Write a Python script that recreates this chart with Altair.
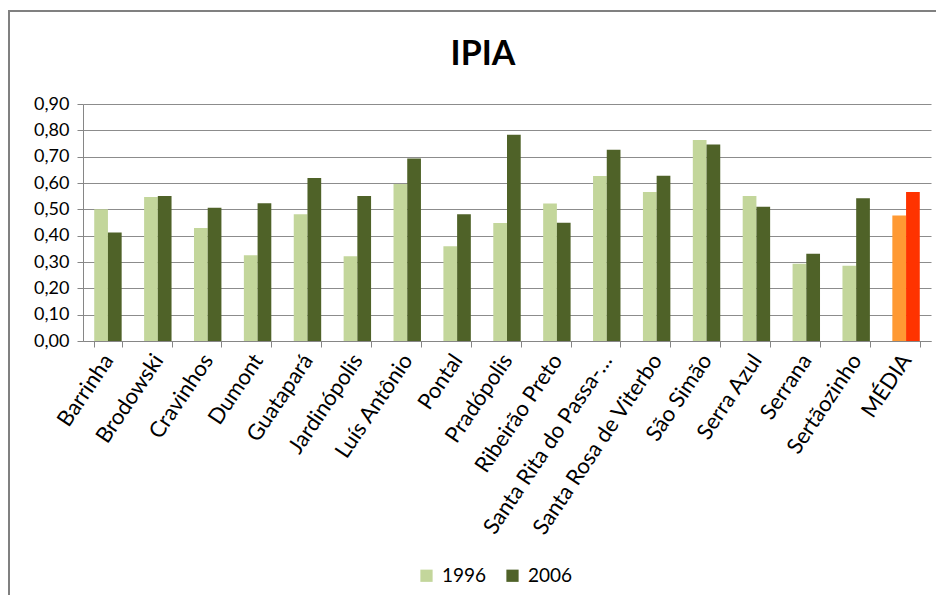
import altair as alt
import pandas as pd

municipios = ["Barrinha", "Brodowski", "Cravinhos", "Dumont", "Guatapará", "Jardinópolis",
              "Luís Antônio", "Pontal", "Pradópolis", "Ribeirão Preto", "Santa Rita do Passa-…",
              "Santa Rosa de Viterbo", "São Simão", "Serra Azul", "Serrana", "Sertãozinho", "MÉDIA"]
v1996 = [0.50, 0.547, 0.429, 0.326, 0.481, 0.322, 0.596, 0.360, 0.448, 0.522, 0.627,
         0.566, 0.763, 0.551, 0.293, 0.286, 0.477]
v2006 = [0.412, 0.551, 0.506, 0.523, 0.619, 0.551, 0.693, 0.481, 0.783, 0.449, 0.726,
         0.628, 0.746, 0.510, 0.331, 0.542, 0.566]
anos = ["1996", "2006"]
cores_dom = ["1996", "2006", "MÉDIA 1996", "MÉDIA 2006"]
cores = ["#C3D69B", "#4F6228", "#FF9933", "#FF3300"]
titulo = ["IPIA"]

rows = []
for m, a, b in zip(municipios, v1996, v2006):
    for ano, v in zip(anos, (a, b)):
        cor = ("MÉDIA " + ano) if m == "MÉDIA" else ano
        rows.append({"municipio": m, "ano": ano, "valor": v, "cor": cor})
df = pd.DataFrame(rows)

FONT = "Lato"

bars = alt.Chart(df).mark_bar().encode(
    x=alt.X("municipio:N", sort=municipios, title=None,
            scale=alt.Scale(paddingInner=0.45, paddingOuter=0.225),
            axis=alt.Axis(labelAngle=-56, labelAlign="right", labelBaseline="middle",
                          labelFontSize=22, labelFont=FONT, labelColor="#000000",
                          labelPadding=9, labelLimit=400, tickBand="extent",
                          tickSize=6, tickColor="#868686", domainColor="#868686",
                          labelOverlap=False)),
    xOffset=alt.XOffset("ano:N", scale=alt.Scale(paddingInner=0, paddingOuter=0)),
    y=alt.Y("valor:Q", title=None,
            scale=alt.Scale(domain=[0, 0.9], nice=False),
            axis=alt.Axis(values=[0, 0.1, 0.2, 0.3, 0.4, 0.5, 0.6, 0.7, 0.8, 0.9],
                          labelExpr="replace(format(datum.value, '.2f'), '.', ',')",
                          labelFontSize=18, labelFont=FONT, labelColor="#000000",
                          labelPadding=8, tickSize=6, tickColor="#868686",
                          domainColor="#868686", gridColor="#8c8c8c", gridWidth=1.2)),
    color=alt.Color("cor:N", scale=alt.Scale(domain=cores_dom, range=cores),
                    legend=alt.Legend(values=anos, title=None, orient="none",
                                      direction="horizontal", legendX=334, legendY=462,
                                      symbolType="square", symbolSize=150,
                                      symbolStrokeWidth=0, labelFontSize=19,
                                      labelFont=FONT, labelColor="#000000",
                                      columnPadding=16, labelOffset=6)),
)

title = alt.Chart(pd.DataFrame({"t": titulo})).mark_text(
    font=FONT, fontSize=34, fontWeight="bold", color="#000000",
    align="center", baseline="alphabetic").encode(
    text="t:N", x=alt.value(400), y=alt.value(-39))

frame = pd.DataFrame({"k": [0]})
top_line = alt.Chart(frame).mark_rule(color="#808080", strokeWidth=2).encode(
    x=alt.value(-74), x2=alt.value(870), y=alt.value(-93))
left_line = alt.Chart(frame).mark_rule(color="#808080", strokeWidth=2).encode(
    x=alt.value(-74), y=alt.value(-94), y2=alt.value(500))

chart = alt.layer(bars, title, top_line, left_line).properties(
    width=848, height=237,
    autosize=alt.AutoSizeParams(type="none"),
    padding={"left": 75, "top": 96, "right": 5, "bottom": 254},
).configure_view(stroke=None)

chart.save("out.html", embed_options={"renderer": "svg", "actions": False})
